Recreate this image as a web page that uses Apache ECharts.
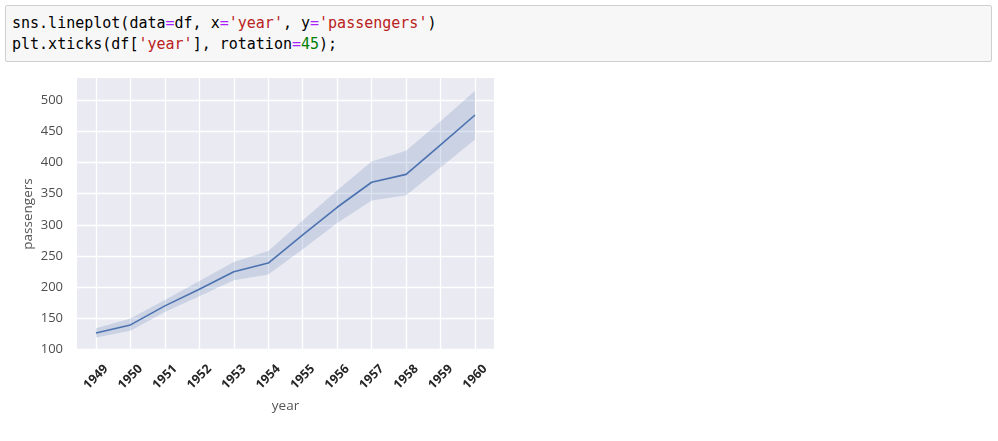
<!DOCTYPE html>
<html>
<head>
<meta charset="utf-8">
<script src="https://cdn.jsdelivr.net/npm/echarts@6/dist/echarts.min.js"></script>
<style>
  html, body { margin: 0; padding: 0; background: #ffffff; }
  #chart { position: absolute; left: 0; top: 0; width: 998px; height: 441px; }
  #code {
    position: absolute; left: 5px; top: 5px; width: 985px; height: 55px;
    background: #f7f7f7; border: 1px solid #cfcfcf; border-radius: 2px;
    font-family: "DejaVu Sans Mono", "Liberation Mono", monospace; font-size: 15px;
    line-height: 21.4px; color: #000; z-index: 2; box-sizing: content-box;
  }
  #code pre { margin: 0; padding: 7px 0 0 6px; font: inherit; white-space: pre; }
  .o { color: #aa22ff; }
  .s { color: #ba2121; }
  .n { color: #008000; }
</style>
</head>
<body>
<div id="code"><pre>sns.lineplot(data<span class="o">=</span>df, x<span class="o">=</span><span class="s">'year'</span>, y<span class="o">=</span><span class="s">'passengers'</span>)
plt.xticks(df[<span class="s">'year'</span>], rotation<span class="o">=</span><span class="n">45</span>);</pre></div>
<div id="chart"></div>
<script>
// ---- data ----
var years = [1949, 1950, 1951, 1952, 1953, 1954, 1955, 1956, 1957, 1958, 1959, 1960];
var passengersMean = [126.7, 139.7, 170.2, 197.0, 225.0, 238.9, 284.0, 328.3, 368.4, 381.0, 428.3, 476.2];
var ciLower = [119.5, 130.5, 160.5, 185.5, 211.5, 220.5, 261.0, 303.0, 339.0, 347.5, 392.0, 437.0];
var ciUpper = [134.5, 150.0, 179.5, 210.0, 240.5, 258.0, 307.0, 355.5, 401.5, 419.0, 466.0, 515.0];
var yTicks = [100, 150, 200, 250, 300, 350, 400, 450, 500];

var bandData = years.map(function (y, i) { return [y, ciLower[i], ciUpper[i]]; });
var meanPts = years.map(function (y, i) { return [y, passengersMean[i]]; });

var chart = echarts.init(document.getElementById('chart'));
var labelFont = '"Open Sans", "Noto Sans", sans-serif';
chart.setOption({
  animation: false,
  grid: {
    left: 77, top: 78, width: 417, height: 272,
    show: true, backgroundColor: '#eaeaf2', borderWidth: 0
  },
  xAxis: {
    type: 'value', min: 1948.45, max: 1960.55,
    name: 'year', nameLocation: 'middle', nameGap: 49,
    nameTextStyle: { color: '#555555', fontSize: 13.5, fontFamily: labelFont },
    axisLine: { show: false },
    axisTick: { show: false, customValues: years },
    axisLabel: {
      customValues: years, rotate: 45, margin: 27,
      align: 'center', verticalAlign: 'middle',
      color: '#262626', fontSize: 12.5, fontWeight: 'bold', fontFamily: labelFont,
      formatter: function (v) { return String(v); }
    },
    splitLine: { show: true, lineStyle: { color: '#ffffff', width: 1.3 } }
  },
  yAxis: {
    type: 'value', min: 99.5, max: 535.5,
    name: 'passengers', nameLocation: 'middle', nameGap: 42, nameRotate: 90,
    nameTextStyle: { color: '#555555', fontSize: 13.5, fontFamily: labelFont },
    axisLine: { show: false },
    axisTick: { show: false, customValues: yTicks },
    axisLabel: {
      customValues: yTicks, margin: 14,
      color: '#4d4d4d', fontSize: 13, fontFamily: labelFont
    },
    splitLine: { show: true, lineStyle: { color: '#ffffff', width: 1.3 } }
  },
  series: [
    {
      type: 'custom', silent: true, data: bandData,
      encode: { x: 0, y: [1, 2] },
      renderItem: function (params, api) {
        if (params.dataIndex !== 0) return null;
        var pts = [];
        var i;
        for (i = 0; i < years.length; i++) pts.push(api.coord([years[i], ciUpper[i]]));
        for (i = years.length - 1; i >= 0; i--) pts.push(api.coord([years[i], ciLower[i]]));
        return {
          type: 'polygon',
          shape: { points: pts },
          style: { fill: '#4c72b0', opacity: 0.2 }
        };
      }
    },
    {
      type: 'line', data: meanPts, symbol: 'none',
      lineStyle: { color: '#4c72b0', width: 1.6 }
    }
  ]
});
</script>
</body>
</html>
